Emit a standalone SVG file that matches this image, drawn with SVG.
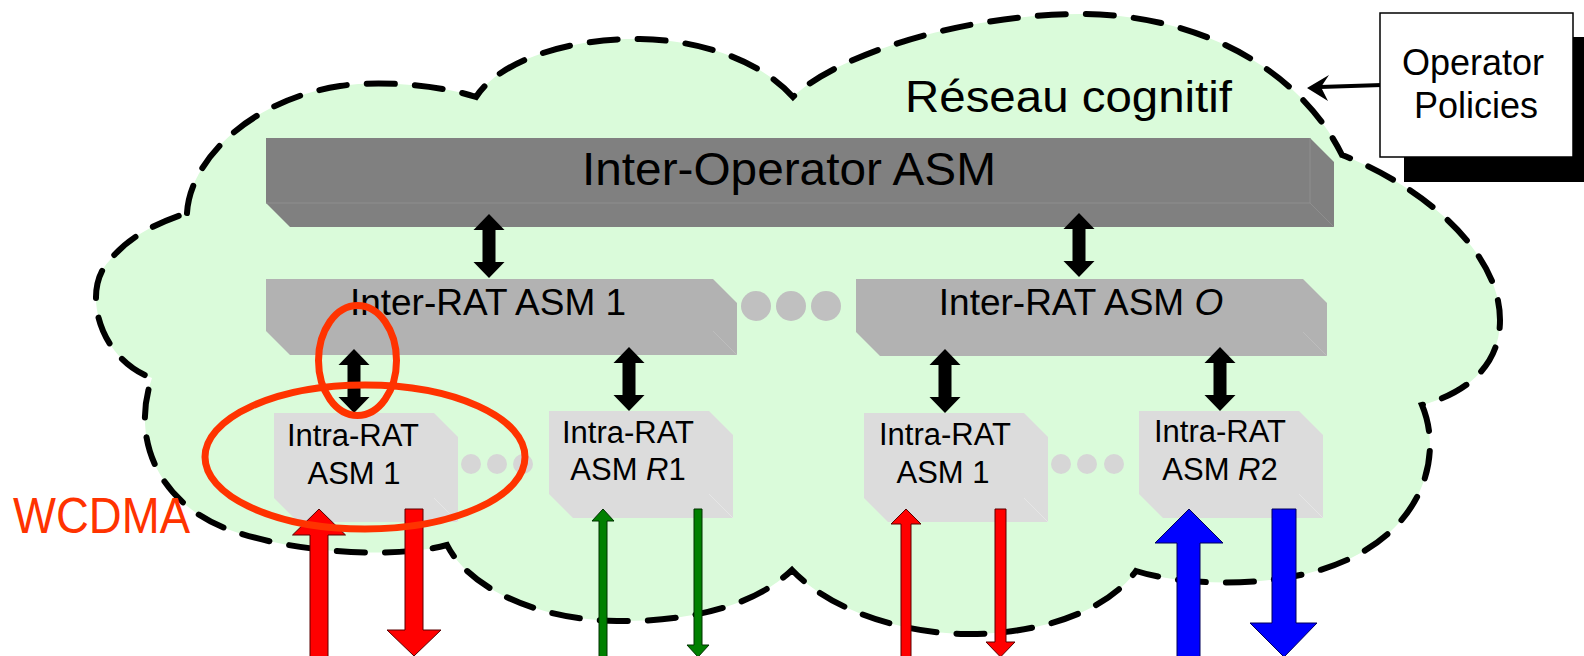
<svg xmlns="http://www.w3.org/2000/svg" width="1584" height="656" viewBox="0 0 1584 656">
<style>
.t{font-family:"Liberation Sans",Arial,sans-serif;fill:#000}
.c{text-anchor:middle}
.faint{fill:none;stroke-width:1}
.blk{fill:#000}
.red{fill:#ff0000;stroke:#5a0000;stroke-width:1}
.grn{fill:#008000;stroke:#003300;stroke-width:1}
.blu{fill:#0000ff;stroke:#00005a;stroke-width:1}
.ell{fill:none;stroke:#ff3300;stroke-width:7}
</style>
<defs>
<path id="dbl" d="M0,0 L15.5,16 L6.5,16 L6.5,48 L15.5,48 L0,64 L-15.5,48 L-6.5,48 L-6.5,16 L-15.5,16 Z"/>
</defs>
<rect width="1584" height="656" fill="#fff"/>

<g id="cloud">
<path d="M187,213 C190,160 250,100 340,86 C380,80 440,85 476,97 C500,60 570,38 640,39 C700,40 760,60 793,97 C830,60 950,15 1080,14 C1200,14 1300,70 1342,155 C1420,185 1500,250 1500,320 C1500,370 1460,395 1422,405 C1445,460 1420,540 1320,570 C1260,588 1180,585 1136,571 C1100,620 1020,635 965,634 C900,633 830,610 792,570 C750,610 680,622 617,621 C540,620 470,590 447,545 C400,558 300,555 230,530 C160,505 130,440 152,378 C100,360 80,290 110,260 C130,235 160,222 187,213 Z" fill="#dafbda" stroke="#000" stroke-width="6" stroke-dasharray="28 20" stroke-linecap="round"/>
<text class="t" x="905" y="112" font-size="44" textLength="327" lengthAdjust="spacingAndGlyphs">Réseau cognitif</text>
</g>

<g id="inter-operator-asm">
<path d="M266,138 L1310,138 L1334,162 L1334,227 L290,227 L266,203 Z" fill="#808080"/>
<path d="M266,203 L1310,203 L1310,138 M1310,203 L1334,227" class="faint" stroke="#8e8e8e"/>
<text class="t c" x="789" y="185" font-size="46" textLength="414" lengthAdjust="spacingAndGlyphs">Inter-Operator ASM</text>
</g>

<g id="inter-rat-asm-1">
<path d="M266,279 L713,279 L737,303 L737,355 L290,355 L266,331 Z" fill="#b2b2b2"/>
<path d="M713,331 L737,355" class="faint" stroke="#bdbdbd"/>
<text class="t c" x="488" y="315" font-size="37">Inter-RAT ASM 1</text>
</g>

<g id="inter-rat-asm-o">
<path d="M856,279 L1303,279 L1327,303 L1327,356 L880,356 L856,332 Z" fill="#b2b2b2"/>
<path d="M1303,332 L1327,356" class="faint" stroke="#bdbdbd"/>
<text class="t c" x="1081" y="315" font-size="37">Inter-RAT ASM <tspan font-style="italic">O</tspan></text>
</g>

<g id="dots-inter-rat" fill="#c0c0c0">
<circle cx="756" cy="306" r="15"/>
<circle cx="791" cy="306" r="15"/>
<circle cx="826" cy="306" r="15"/>
</g>

<g id="intra-rat-asm-1-a">
<path d="M274,413 L434,413 L458,437 L458,522 L298,522 L274,498 Z" fill="#dcdcdc"/>
<path d="M434,498 L458,522" class="faint" stroke="#e6e6e6"/>
<text class="t c" x="353" y="446" font-size="31">Intra-RAT</text>
<text class="t c" x="354" y="484" font-size="31">ASM 1</text>
</g>

<g id="intra-rat-asm-r1">
<path d="M549,411 L709,411 L733,435 L733,518 L573,518 L549,494 Z" fill="#dcdcdc"/>
<path d="M709,494 L733,518" class="faint" stroke="#e6e6e6"/>
<text class="t c" x="628" y="443" font-size="31">Intra-RAT</text>
<text class="t c" x="628" y="480" font-size="31">ASM <tspan font-style="italic">R</tspan>1</text>
</g>

<g id="intra-rat-asm-1-b">
<path d="M864,413 L1024,413 L1048,437 L1048,522 L888,522 L864,498 Z" fill="#dcdcdc"/>
<path d="M1024,498 L1048,522" class="faint" stroke="#e6e6e6"/>
<text class="t c" x="945" y="445" font-size="31">Intra-RAT</text>
<text class="t c" x="943" y="483" font-size="31">ASM 1</text>
</g>

<g id="intra-rat-asm-r2">
<path d="M1139,411 L1299,411 L1323,435 L1323,518 L1163,518 L1139,494 Z" fill="#dcdcdc"/>
<path d="M1299,494 L1323,518" class="faint" stroke="#e6e6e6"/>
<text class="t c" x="1220" y="442" font-size="31">Intra-RAT</text>
<text class="t c" x="1220" y="480" font-size="31">ASM <tspan font-style="italic">R</tspan>2</text>
</g>

<g id="dots-intra" fill="#d6d6d6">
<circle cx="471" cy="464" r="10"/>
<circle cx="497" cy="464" r="10"/>
<circle cx="523" cy="464" r="10"/>
<circle cx="1061" cy="464" r="10"/>
<circle cx="1087" cy="464" r="10"/>
<circle cx="1114" cy="464" r="10"/>
</g>

<g id="connectors">
<use href="#dbl" class="blk" transform="translate(489,214)"/>
<use href="#dbl" class="blk" transform="translate(1079,213)"/>
<use href="#dbl" class="blk" transform="translate(354,349)"/>
<use href="#dbl" class="blk" transform="translate(629,347)"/>
<use href="#dbl" class="blk" transform="translate(945,349)"/>
<use href="#dbl" class="blk" transform="translate(1220,347)"/>
<path class="red" d="M319,509 L345.5,535 L328,535 L328,660 L310,660 L310,535 L292.5,535 Z"/>
<path class="red" d="M405,509 L423,509 L423,630 L441,630 L414,656 L387,630 L405,630 Z"/>
<path class="grn" d="M603,509 L614,521 L607,521 L607,660 L599,660 L599,521 L592,521 Z"/>
<path class="grn" d="M694,509 L702,509 L702,645 L709,645 L698,657 L687,645 L694,645 Z"/>
<path class="red" d="M906,509 L921,524 L911,524 L911,660 L901,660 L901,524 L891,524 Z"/>
<path class="red" d="M995,509 L1006,509 L1006,642 L1015,642 L1000.5,657 L986,642 L995,642 Z"/>
<path class="blu" d="M1189,509 L1223,543 L1200,543 L1200,660 L1177,660 L1177,543 L1155,543 Z"/>
<path class="blu" d="M1272,509 L1296,509 L1296,623 L1317,623 L1284,657 L1250,623 L1272,623 Z"/>
<path d="M1382,85 L1320,87" stroke="#000" stroke-width="4" fill="none"/>
<path d="M1307,88 L1329,75 L1321,87 L1328,101 Z" fill="#000"/>
</g>

<g id="wcdma-highlight">
<ellipse class="ell" cx="357.5" cy="360.5" rx="39" ry="55"/>
<ellipse class="ell" cx="365" cy="457" rx="160" ry="72"/>
<text class="t" x="13" y="533" font-size="50" fill="#ff3300" style="fill:#ff3300" textLength="177" lengthAdjust="spacingAndGlyphs">WCDMA</text>
</g>

<g id="operator-policies">
<rect x="1404" y="37" width="200" height="145" fill="#000"/>
<rect x="1380" y="13" width="193" height="144" fill="#fff" stroke="#000" stroke-width="1.5"/>
<text class="t c" x="1473" y="75" font-size="36">Operator</text>
<text class="t c" x="1476" y="118" font-size="36">Policies</text>
</g>
</svg>
